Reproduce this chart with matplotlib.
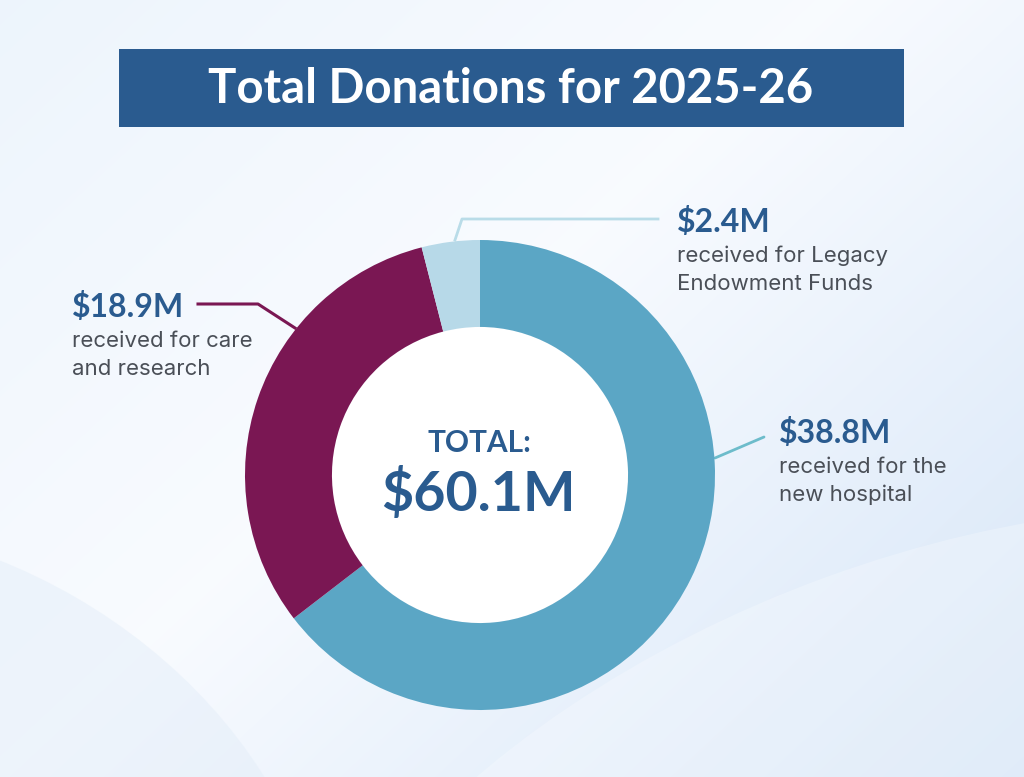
import matplotlib
matplotlib.use("Agg")
import matplotlib.pyplot as plt
import numpy as np
from matplotlib.patches import Rectangle, Ellipse, Circle

# ---------------- data ----------------
title = "Total Donations for 2025-26"
categories = ["the new hospital", "care and research", "Legacy Endowment Funds"]
values = [38.8, 18.9, 2.4]          # $M
value_labels = ["$38.8M", "$18.9M", "$2.4M"]
desc_lines = [["received for the", "new hospital"],
              ["received for care", "and research"],
              ["received for Legacy", "Endowment Funds"]]
total_label = "$60.1M"

colors = ["#5BA6C5", "#7A1753", "#B7D9E8"]
line_colors = ["#6DBCCB", "#7A1753", "#B9DCE8"]
navy = "#2A5B8F"
gray = "#4A4F57"
FONT = "Lato"
DESC_FONT = "Inter"

W, H = 1024, 777
fig = plt.figure(figsize=(W / 100, H / 100), dpi=100)

# background
bg = fig.add_axes([0, 0, 1, 1])
bg.set_xlim(0, W)
bg.set_ylim(H, 0)
bg.axis("off")
yy, xx = np.mgrid[0:H, 0:W]
t = (xx / W * 0.55 + yy / H * 0.45)
c0 = np.array([0.93, 0.96, 0.99])
c1 = np.array([0.975, 0.985, 1.0])
c2 = np.array([0.84, 0.90, 0.97])
tt = t[..., None]
img = np.where(tt < 0.45, c0 + (c1 - c0) * (tt / 0.45), c1 + (c2 - c1) * ((tt - 0.45) / 0.55))
bg.imshow(np.clip(img, 0, 1), extent=[0, W, H, 0], zorder=0, aspect="auto")
# soft curved sweeps
bg.add_patch(Ellipse((980, 1000), 1500, 900, angle=-20, facecolor="white", alpha=0.25, lw=0, zorder=1))
bg.add_patch(Ellipse((-100, 900), 900, 700, angle=30, facecolor="#E4EEF9", alpha=0.5, lw=0, zorder=1))

# title bar
bg.add_patch(Rectangle((119, 49), 785, 78, facecolor=navy, edgecolor="none", zorder=3))
bg.text(511, 89, title, color="white", fontsize=34, fontweight="bold", family=FONT,
        ha="center", va="center", zorder=4)

# donut
cx, cy, R = 480, 475, 235
pax = fig.add_axes([(cx - R) / W, 1 - (cy + R) / H, 2 * R / W, 2 * R / H])
pax.pie(values, colors=colors, startangle=90, counterclock=False, radius=1.0,
        wedgeprops=dict(width=0.37, edgecolor="none"))
pax.add_patch(Circle((0, 0), 0.63, facecolor="white", edgecolor="none", zorder=0))
pax.set_xlim(-1, 1)
pax.set_ylim(-1, 1)
pax.set_aspect("equal")
pax.axis("off")

# center labels (drawn with the donut axes, placed in pixel coordinates)
pax.text(cx - 1, 452, "TOTAL:", color=navy, fontsize=21.5, fontweight="bold", family=FONT,
         ha="center", va="baseline", zorder=5, transform=bg.transData)
pax.text(cx - 2, 511, total_label, color=navy, fontsize=40, fontweight="bold", family=FONT,
         ha="center", va="baseline", zorder=5, transform=bg.transData)

# leader lines
bg.plot([715, 764], [458, 437], color=line_colors[0], lw=2, zorder=5, solid_capstyle="round")
bg.plot([198, 258, 295], [304, 304, 328], color=line_colors[1], lw=2.2, zorder=5)
bg.plot([455, 462, 658], [240, 219, 219], color=line_colors[2], lw=2, zorder=5)

# annotations
ann = [(779, 443), (72, 317), (677, 232)]
for (x, yb), vl, dl in zip(ann, value_labels, desc_lines):
    bg.text(x, yb, vl, color=navy, fontsize=23, fontweight="bold", family=FONT,
            ha="left", va="baseline", zorder=5)
    for k, line in enumerate(dl):
        bg.text(x, yb + 30 + 28 * k, line, color=gray, fontsize=16, family=DESC_FONT,
                ha="left", va="baseline", zorder=5)

fig.savefig("out.png", dpi=100)
